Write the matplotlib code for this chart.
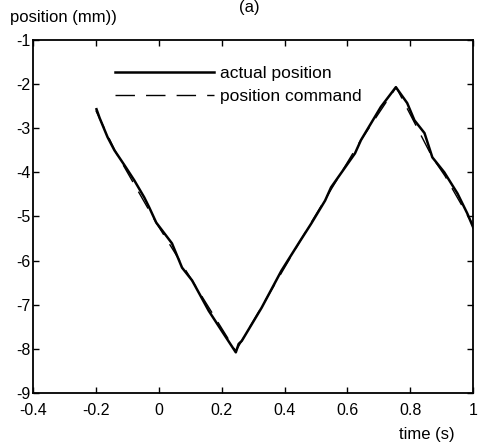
import matplotlib
matplotlib.use('Agg')
import matplotlib.pyplot as plt
from matplotlib.ticker import FixedLocator, FixedFormatter

plt.rcParams['font.family'] = ['Liberation Sans', 'DejaVu Sans']
plt.rcParams['axes.unicode_minus'] = False

# measured stage position (mm) against time (s)
t_actual = [-0.198, -0.188, -0.163, -0.141, -0.109, -0.078, -0.046, -0.03,
            -0.008, 0.042, 0.074, 0.106, 0.159, 0.20, 0.245, 0.254, 0.264,
            0.327, 0.39, 0.45, 0.485, 0.529, 0.548, 0.624, 0.643, 0.706,
            0.754, 0.79, 0.813, 0.845, 0.87, 0.908, 0.95, 0.981, 1.0]
y_actual = [-2.57, -2.77, -3.2, -3.5, -3.84, -4.18, -4.57, -4.8,
            -5.14, -5.61, -6.16, -6.45, -7.14, -7.59, -8.08, -7.89, -7.82,
            -7.07, -6.23, -5.55, -5.16, -4.64, -4.34, -3.57, -3.27, -2.52,
            -2.07, -2.43, -2.82, -3.11, -3.66, -4.0, -4.48, -4.93, -5.25]

# commanded position (mm)
t_command = [-0.2, -0.14, -0.01, 0.245, 0.45, 0.64, 0.755, 0.87, 0.91, 1.0]
y_command = [-2.6, -3.5, -5.12, -8.05, -5.55, -3.3, -2.07, -3.66, -4.08, -5.2]

x_ticks = [-0.4, -0.2, 0, 0.2, 0.4, 0.6, 0.8, 1.0]
x_labels = ['-0.4', '-0.2', '0', '0.2', '0.4', '0.6', '0.8', '1']
y_ticks = [-9, -8, -7, -6, -5, -4, -3, -2, -1]
y_labels = ['-9', '-8', '-7', '-6', '-5', '-4', '-3', '-2', '-1']

fig = plt.figure(figsize=(4.78, 4.44), dpi=100)
ax = fig.add_axes([0.069, 0.115, 0.921, 0.795])

ax.plot(t_actual, y_actual, color='black', lw=1.8, solid_joinstyle='round',
        label='actual position')
ax.plot(t_command, y_command, color='black', lw=1.0, dashes=(14, 8),
        label='position command')

ax.set_xlim(-0.4, 1.0)
ax.set_ylim(-9, -1)
ax.xaxis.set_major_locator(FixedLocator(x_ticks))
ax.xaxis.set_major_formatter(FixedFormatter(x_labels))
ax.yaxis.set_major_locator(FixedLocator(y_ticks))
ax.yaxis.set_major_formatter(FixedFormatter(y_labels))
ax.tick_params(direction='in', length=4, width=1, top=True, right=True,
               labelsize=11.5, pad=2, colors='black')
ax.tick_params(axis='x', pad=7)
for s in ax.spines.values():
    s.set_linewidth(1.3)

ax.legend(loc='upper left', bbox_to_anchor=(0.15, 0.97), frameon=False,
          fontsize=12.5, handlelength=5.7, handletextpad=0.35,
          labelspacing=0.45)

fig.text(0.02, 0.96, 'position (mm))', fontsize=12, ha='left', va='center')
fig.text(0.893, 0.021, 'time (s)', fontsize=12, ha='center', va='center')
fig.text(0.522, 0.999, '(a)', fontsize=12, ha='center', va='top')

fig.savefig('out.png', dpi=100)
